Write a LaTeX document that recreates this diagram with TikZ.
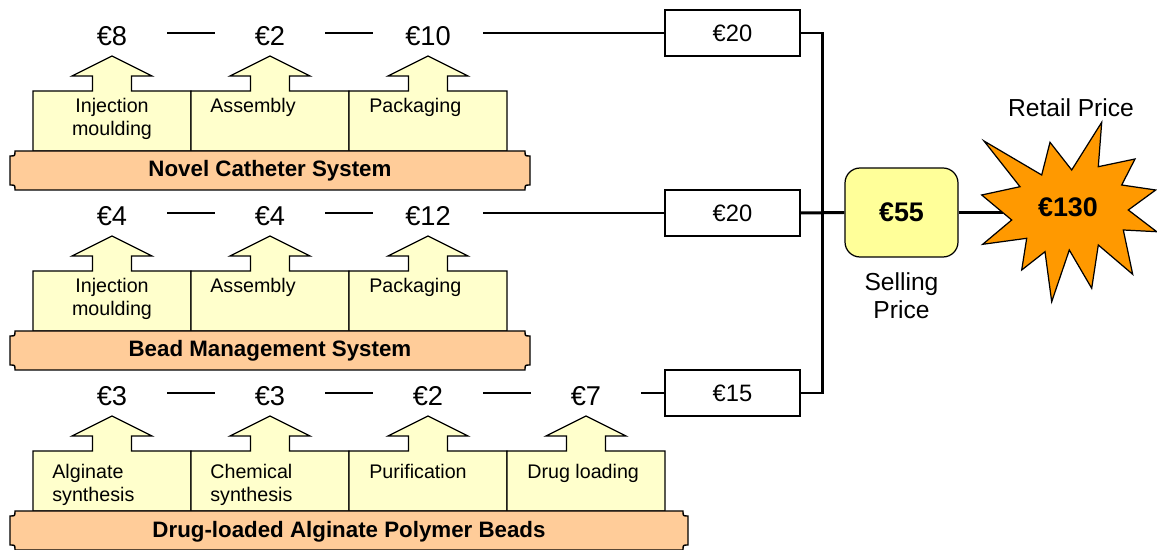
\documentclass[tikz,border=0pt]{standalone}
\usepackage{fontspec}
\setmainfont{Liberation Sans}
\usetikzlibrary{positioning}
\definecolor{procfill}{HTML}{FFFFCC}
\definecolor{scrollfill}{HTML}{FFCC99}
\definecolor{sellfill}{HTML}{FFFF99}
\definecolor{burstfill}{HTML}{FF9900}

\begin{document}
\begin{tikzpicture}[x=0.02cm, y=-0.02cm,
    % one unit = one pixel of the 1157 x 550 sheet
    link/.style={line width=1.7pt},
    val/.style={minimum width=2.2cm, inner sep=0pt, text height=14.5pt, text depth=0pt, font=\fontsize{15.5}{18}\selectfont},
    cost/.style={draw, line width=0.6pt, minimum width=2.7cm, minimum height=0.92cm, font=\fontsize{13.5}{16}\selectfont},
    proc/.style={draw, line width=0.7pt, fill=procfill},
    proctext/.style={inner sep=0pt, align=left, anchor=north west, font=\fontsize{11.2}{12.8}\selectfont},
    scroll/.style={draw, line width=0.8pt, fill=scrollfill},
    scrolltext/.style={anchor=base, inner sep=0pt, font=\fontsize{12.7}{15}\selectfont\bfseries}]

    \useasboundingbox (0,0) rectangle (1157,550);

    % Process boxes with upward arrows
    \foreach \c in {112,270,428} \foreach \t in {91,271} {
        \draw[proc] (\c-79,\t+60) -- (\c-79,\t) -- (\c-19.5,\t) -- (\c-19.5,\t-15) -- (\c-40,\t-15) -- (\c,\t-35)
            -- (\c+40,\t-15) -- (\c+19.5,\t-15) -- (\c+19.5,\t) -- (\c+79,\t) -- (\c+79,\t+60) -- cycle;
    }
    \foreach \c in {112,270,428,586} {
        \draw[proc] (\c-79,511) -- (\c-79,451) -- (\c-19.5,451) -- (\c-19.5,436) -- (\c-40,436) -- (\c,416)
            -- (\c+40,436) -- (\c+19.5,436) -- (\c+19.5,451) -- (\c+79,451) -- (\c+79,511) -- cycle;
    }

    % Scroll banners under each row
    \foreach \xr/\yt in {530/151, 530/331, 688/511} {
        \draw[scroll] (15,\yt) -- (\xr-5,\yt) .. controls (\xr-5,\yt+5) .. (\xr,\yt+5) -- (\xr,\yt+34)
            .. controls (\xr-5,\yt+34) .. (\xr-5,\yt+39) -- (15,\yt+39) .. controls (15,\yt+34) .. (10,\yt+34)
            -- (10,\yt+5) .. controls (15,\yt+5) .. (15,\yt) -- cycle;
    }

    % Step labels
    \node[proctext, anchor=north, align=center] (p11) at (112,98) {Injection\\moulding};
    \node[proctext] (p12) at (210,98) {Assembly};
    \node[proctext] (p13) at (369,98) {Packaging};
    \node[proctext, anchor=north, align=center] (p21) at (112,278) {Injection\\moulding};
    \node[proctext] (p22) at (210,278) {Assembly};
    \node[proctext] (p23) at (369,278) {Packaging};
    \node[proctext] (p31) at (52,464) {Alginate\\synthesis};
    \node[proctext] (p32) at (210,464) {Chemical\\synthesis};
    \node[proctext] (p33) at (369,464) {Purification};
    \node[proctext] (p34) at (527,464) {Drug loading};

    \node[scrolltext] (s1) at (270,177) {Novel Catheter System};
    \node[scrolltext] (s2) at (270,357) {Bead Management System};
    \node[scrolltext] (s3) at (349,538) {Drug-loaded Alginate Polymer Beads};

    % Cost of each step
    \node[val] (v11) at (112,33) {€8};
    \node[val] (v12) at (270,33) {€2};
    \node[val] (v13) at (428,33) {€10};
    \node[val] (v21) at (112,213) {€4};
    \node[val] (v22) at (270,213) {€4};
    \node[val] (v23) at (428,213) {€12};
    \node[val] (v31) at (112,393) {€3};
    \node[val] (v32) at (270,393) {€3};
    \node[val] (v33) at (428,393) {€2};
    \node[val] (v34) at (586,393) {€7};

    % Totals per product
    \node[cost] (c1) at (732.5,33) {€20};
    \node[cost] (c2) at (732.5,213) {€20};
    \node[cost] (c3) at (732.5,393) {€15};

    \node[draw, line width=0.7pt, fill=sellfill, rounded corners=0.3cm, minimum width=2.26cm, minimum height=1.78cm,
        font=\fontsize{15.3}{18}\selectfont\bfseries] (sell) at (901.5,212.5) {€55};
    \node[below=0.3cm of sell, inner sep=0pt, align=center, font=\fontsize{14}{16}\selectfont] (selltext) {Selling\\Price};

    \draw[link] (v11) -- (v12);
    \draw[link] (v12) -- (v13);
    \draw[link] (v13) -- (c1);
    \draw[link] (v21) -- (v22);
    \draw[link] (v22) -- (v23);
    \draw[link] (v23) -- (c2);
    \draw[link] (v31) -- (v32);
    \draw[link] (v32) -- (v33);
    \draw[link] (v33) -- (v34);
    \draw[link] (v34) -- (c3);

    \coordinate (bus) at (822,213);
    \coordinate (burstw) at (1003,212.5);
    \draw[link] (c1.east) -| (bus) |- (c3.east);
    \draw[link] (c2.east) -- (sell.west);
    \draw[link] (sell.east) -- (burstw);

    % Retail price burst
    \draw[line width=0.7pt, fill=burstfill] (984,141) -- (1041.7,175) -- (1050,142.3) -- (1071.7,170) -- (1101.7,122.3)
        -- (1098.3,166.7) -- (1135,159) -- (1121.7,185) -- (1155.7,190) -- (1128.3,210) -- (1156.7,231.7)
        -- (1123.3,230) -- (1132.7,274.3) -- (1098.3,245) -- (1091.7,288.3) -- (1069.3,250) -- (1051.7,301.7)
        -- (1045,251.7) -- (1021.7,270) -- (1026.7,238.3) -- (982.7,244.3) -- (1011.7,220) -- (981.7,195)
        -- (1020,186.7) -- cycle;
    \node[font=\fontsize{15.3}{18}\selectfont\bfseries] (burst) at (1068,207) {€130};
    \node[font=\fontsize{14}{16}\selectfont] (retail) at (1071,108) {Retail Price};
\end{tikzpicture}
\end{document}
